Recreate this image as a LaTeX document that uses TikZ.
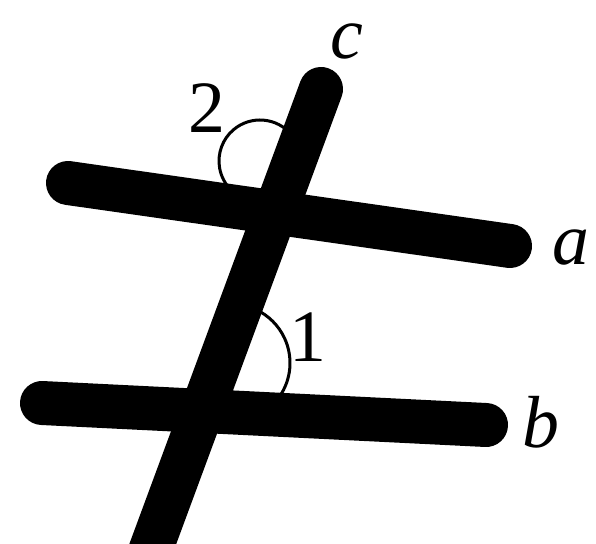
\documentclass[tikz,border=0pt]{standalone}
\usepackage{fontspec}
\setmainfont{Liberation Serif}
\begin{document}
\begin{tikzpicture}[
  barline/.style={line width=0.44cm, line cap=round, black},
  anglearc/.style={line width=0.03cm, black},
  letterlbl/.style={font=\fontsize{21}{25}\selectfont\itshape, inner sep=0pt},
  numlbl/.style={font=\fontsize{21}{25}\selectfont, inner sep=0pt},
]

%% ── Canvas ───────────────────────────────────────────────────────────────────
\useasboundingbox (0,0) rectangle (5.96,5.43);
\clip (0,0) rectangle (5.96,5.43);

%% ── End points of the three lines ────────────────────────────────────────────
\coordinate (a1) at (0.68, 3.60);
\coordinate (a2) at (5.10, 2.97);
\coordinate (b1) at (0.42, 1.40);
\coordinate (b2) at (4.86, 1.18);
\coordinate (c1) at (3.21, 4.54);
\coordinate (c2) at (1.45,-0.22);

%% ── Angle marks (drawn first, the bars cover their ends) ─────────────────────
\draw[anglearc] (2.60,3.82) ++(40:0.41) arc[start angle=40, end angle=225, radius=0.41];
\draw[anglearc] (2.31,1.80) ++(-35:0.59) arc[start angle=-35, end angle=65, radius=0.59];

%% ── Lines a, b and the transversal c ─────────────────────────────────────────
\draw[barline] (a1) -- (a2);
\draw[barline] (b1) -- (b2);
\draw[barline] (c1) -- (c2);

%% ── Labels ───────────────────────────────────────────────────────────────────
\node[letterlbl] (la) at (5.71, 2.95) {a};
\node[letterlbl] (lb) at (5.41, 1.21) {b};
\node[letterlbl] (lc) at (3.47, 5.02) {c};
\node[numlbl]    (l1) at (3.08, 2.06) {1};
\node[numlbl]    (l2) at (2.07, 4.35) {2};

\end{tikzpicture}
\end{document}
